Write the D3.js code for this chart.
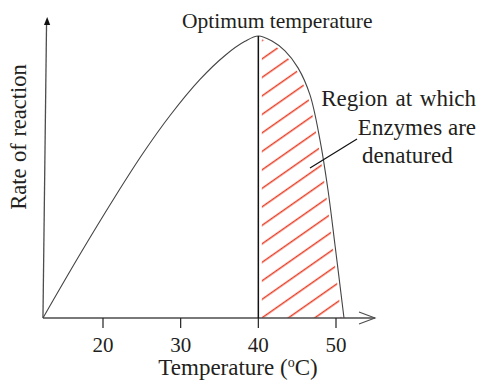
<!DOCTYPE html>
<html>
<head>
<meta charset="utf-8">
<script src="https://cdn.jsdelivr.net/npm/d3@7"></script>
<style>
  body { margin: 0; background: #fff; }
  text { font-family: "Liberation Serif", "DejaVu Serif", serif; fill: #231f20; }
</style>
</head>
<body>
<div id="chart"></div>
<script>
// curve: temperature (°C) vs relative rate
var temps = [12.27, 17.04, 21.55, 25.15, 28.63, 32.49, 35.71, 38.28, 40, 41.76, 43.43, 45.11, 46.65, 47.94, 48.97, 49.87, 51.03];
var rates = [0, 22.6, 43.0, 58.4, 71.8, 84.6, 93.1, 98.1, 100, 98.2, 94.7, 88.7, 79.1, 63.1, 45.4, 25.9, 0];
var tickValues = [20, 30, 40, 50];
var optimum = 40;
var annotation = ["Region at which", "Enzymes are", "denatured"];

var width = 483, height = 381;

var data = temps.map(function (t, i) { return {t: t, r: rates[i]}; });

var svg = d3.select("#chart")
    .append("svg")
    .attr("width", width)
    .attr("height", height);

// scales
var x = d3.scaleLinear().domain([20, 50]).range([103, 336]);
var y = d3.scaleLinear().domain([0, 100]).range([318, 36]);

var x0 = x(temps[0]), yBase = y(0);

// hatch pattern, red lines at ~35 degrees
var spacing = 15.15, ang = 35 * Math.PI / 180;
var off = (x(optimum) * Math.sin(ang) + 301.9 * Math.cos(ang)) % spacing;
var defs = svg.append("defs");
defs.append("pattern")
    .attr("id", "hatch")
    .attr("patternUnits", "userSpaceOnUse")
    .attr("width", 20)
    .attr("height", spacing)
    .attr("patternTransform", "rotate(-35)")
    .append("line")
    .attr("x1", -1).attr("x2", 21)
    .attr("y1", off).attr("y2", off)
    .attr("stroke", "#e63e26")
    .attr("stroke-width", 1.5);

defs.append("clipPath")
    .attr("id", "right")
    .append("rect")
    .attr("x", x(optimum))
    .attr("y", 0)
    .attr("width", width)
    .attr("height", yBase);

var curve = d3.curveCatmullRom.alpha(0.5);

var line = d3.line()
    .x(function (d) { return x(d.t); })
    .y(function (d) { return y(d.r); })
    .curve(curve);

var area = d3.area()
    .x(function (d) { return x(d.t); })
    .y0(yBase)
    .y1(function (d) { return y(d.r); })
    .curve(curve);

// hatched region
svg.append("path")
    .datum(data)
    .attr("d", area)
    .attr("clip-path", "url(#right)")
    .attr("fill", "url(#hatch)");

// white halos so the hatch stops short of the edges
svg.append("path")
    .datum(data)
    .attr("d", line)
    .attr("fill", "none")
    .attr("stroke", "#fff")
    .attr("stroke-width", 5);
svg.append("line")
    .attr("x1", x(optimum)).attr("x2", x(optimum))
    .attr("y1", y(100)).attr("y2", yBase)
    .attr("stroke", "#fff")
    .attr("stroke-width", 7);

// x axis with open arrow
var axisColor = "#4d4d4d";
svg.append("line")
    .attr("x1", x0).attr("x2", 375)
    .attr("y1", yBase).attr("y2", yBase)
    .attr("stroke", axisColor)
    .attr("stroke-width", 1.3);
svg.append("path")
    .attr("d", "M359," + (yBase - 6) + "L375," + yBase + "L359," + (yBase + 6))
    .attr("fill", "none")
    .attr("stroke", axisColor)
    .attr("stroke-width", 1.1);

svg.append("g")
    .selectAll("line")
    .data(tickValues)
    .enter()
    .append("line")
    .attr("x1", function (d) { return x(d); })
    .attr("x2", function (d) { return x(d); })
    .attr("y1", yBase)
    .attr("y2", yBase + 10)
    .attr("stroke", "#222")
    .attr("stroke-width", 1.2);

svg.append("g")
    .selectAll("text")
    .data(tickValues)
    .enter()
    .append("text")
    .attr("x", function (d) { return x(d); })
    .attr("y", 352)
    .attr("text-anchor", "middle")
    .style("font-size", "21px")
    .text(function (d) { return d; });

// y axis (slightly leaning, as in the picture) with filled arrow
svg.append("line")
    .attr("x1", x0).attr("y1", yBase)
    .attr("x2", x0 + 3.6).attr("y2", 22)
    .attr("stroke", axisColor)
    .attr("stroke-width", 1.3);
svg.append("path")
    .attr("d", "M" + (x0 + 4.2) + ",17L" + (x0 + 7.2) + ",25L" + (x0 + 1) + ",25Z")
    .attr("fill", "#111");

// the curve
svg.append("path")
    .datum(data)
    .attr("d", line)
    .attr("fill", "none")
    .attr("stroke", "#444")
    .attr("stroke-width", 1.1);

// optimum line
svg.append("line")
    .attr("x1", x(optimum)).attr("x2", x(optimum))
    .attr("y1", y(100)).attr("y2", yBase)
    .attr("stroke", "#111")
    .attr("stroke-width", 1.5);

// labels
svg.append("text")
    .attr("x", 182)
    .attr("y", 28)
    .style("font-size", "21.5px")
    .text("Optimum temperature");

svg.append("text")
    .attr("x", 476).attr("y", 106)
    .attr("text-anchor", "end")
    .style("font-size", "23px")
    .style("word-spacing", "2px")
    .text(annotation[0]);
svg.append("text")
    .attr("x", 476).attr("y", 135)
    .attr("text-anchor", "end")
    .style("font-size", "23px")
    .text(annotation[1]);
svg.append("text")
    .attr("x", 362).attr("y", 163)
    .style("font-size", "23px")
    .text(annotation[2]);

// pointer
svg.append("line")
    .attr("x1", 357).attr("y1", 139)
    .attr("x2", 310).attr("y2", 168)
    .attr("stroke", "#111")
    .attr("stroke-width", 1.2);

var xl = svg.append("text")
    .attr("x", 238)
    .attr("y", 375)
    .attr("text-anchor", "middle")
    .style("font-size", "23px");
xl.append("tspan").text("Temperature (");
xl.append("tspan").attr("dy", -8).style("font-size", "14px").text("o");
xl.append("tspan").attr("dy", 8).text("C)");

svg.append("text")
    .attr("transform", "translate(26,137) rotate(-90)")
    .attr("text-anchor", "middle")
    .style("font-size", "22.5px")
    .style("word-spacing", "1px")
    .text("Rate of reaction");
</script>
</body>
</html>
